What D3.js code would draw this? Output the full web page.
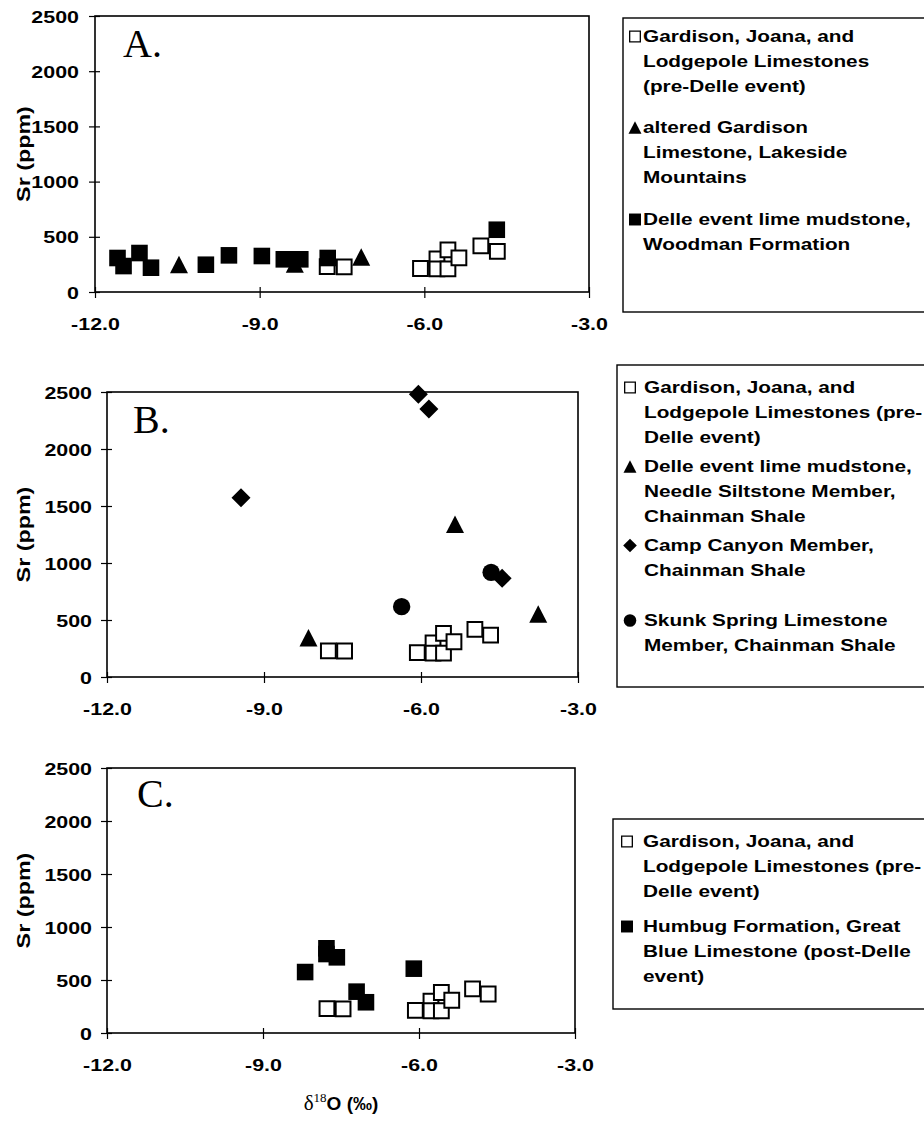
<!DOCTYPE html>
<html><head><meta charset="utf-8">
<script src="https://cdn.jsdelivr.net/npm/d3@7"></script>
<style>body{margin:0;background:#fff}svg{display:block}</style>
</head><body><svg id="c" width="924" height="1125"></svg>
<script>
// ---------- data ----------
const xTickValues = [-12, -9, -6, -3];
const yTickValues = [0, 500, 1000, 1500, 2000, 2500];

const gardisonX = [-7.77, -7.46, -6.07, -5.77, -5.77, -5.57, -5.57, -5.37, -4.97, -4.67];
const gardisonY = [230, 228, 213, 300, 210, 382, 210, 309, 417, 368];

const woodmanX = [-11.59, -11.48, -11.19, -10.98, -9.98, -9.56, -8.96, -8.56, -8.26, -7.76, -4.68];
const woodmanY = [308, 235, 353, 220, 247, 332, 326, 296, 296, 308, 564];

const alteredX = [-10.47, -8.36, -7.15];
const alteredY = [249, 254, 318];

const needleX = [-8.15, -5.35, -3.76];
const needleY = [345, 1339, 553];

const campX = [-9.44, -6.05, -5.85, -4.45];
const campY = [1573, 2480, 2351, 866];

const skunkX = [-6.37, -4.66];
const skunkY = [617, 918];

const humbugX = [-8.19, -7.78, -7.78, -7.58, -7.2, -7.02, -6.10];
const humbugY = [575, 799, 745, 714, 390, 290, 607];

const legendA = [
  {type: 'openSquare', lines: ['Gardison, Joana, and', 'Lodgepole Limestones', '(pre-Delle event)']},
  {type: 'triangle', lines: ['altered Gardison', 'Limestone, Lakeside', 'Mountains']},
  {type: 'square', lines: ['Delle event lime mudstone,', 'Woodman Formation']}
];
const legendB = [
  {type: 'openSquare', lines: ['Gardison, Joana, and', 'Lodgepole Limestones (pre-', 'Delle event)']},
  {type: 'triangle', lines: ['Delle event lime mudstone,', 'Needle Siltstone Member,', 'Chainman Shale']},
  {type: 'diamond', lines: ['Camp Canyon Member,', 'Chainman Shale']},
  {type: 'circle', lines: ['Skunk Spring Limestone', 'Member, Chainman Shale']}
];
const legendC = [
  {type: 'openSquare', lines: ['Gardison, Joana, and', 'Lodgepole Limestones (pre-', 'Delle event)']},
  {type: 'square', lines: ['Humbug Formation, Great', 'Blue Limestone (post-Delle', 'event)']}
];

// ---------- drawing ----------
const svg = d3.select('#c');
const SX = 1.26;
const SANS = '"Liberation Sans", Arial, Helvetica, sans-serif';
const SERIF = '"Liberation Serif", "Times New Roman", serif';

function stext(g, x, y, str, size, anchor, rot) {
  return g.append('text')
    .attr('transform', `translate(${x},${y})` + (rot ? ` rotate(${rot})` : '') + ` scale(${SX},1)`)
    .attr('text-anchor', anchor || 'start')
    .attr('font-family', SANS).attr('font-weight', 'bold').attr('font-size', size)
    .attr('fill', '#000')
    .text(str);
}

function shapePath(type, k) {
  if (type === 'openSquare') { const s = 14.8 * k; return `M${-s/2},${-s/2}h${s}v${s}h${-s}Z`; }
  if (type === 'square') { const s = 16.6 * k; return `M${-s/2},${-s/2}h${s}v${s}h${-s}Z`; }
  if (type === 'triangle') { const w = 18 * k, h = 17.5 * k; return `M0,${-h/2}L${w/2},${h/2}L${-w/2},${h/2}Z`; }
  if (type === 'diamond') { const s = 19 * k; return `M0,${-s/2}L${s/2},0L0,${s/2}L${-s/2},0Z`; }
  if (type === 'circle') { const r = 8.7 * k; return `M${r},0A${r},${r} 0 1,1 ${-r},0A${r},${r} 0 1,1 ${r},0Z`; }
}
function styleMarker(sel, type, k) {
  if (type === 'openSquare') sel.attr('fill', '#fff').attr('stroke', '#000').attr('stroke-width', 2 * k);
  else sel.attr('fill', '#000').attr('stroke', 'none');
}

const panels = [
  {letter: 'A.', x0: 95, x1: 589, y0: 16, y1: 292, yPad: 16, lx: 123, ly: 57,
   series: [[gardisonX, gardisonY, 'openSquare'], [alteredX, alteredY, 'triangle'], [woodmanX, woodmanY, 'square']],
   legend: {x: 623, y: 18, h: 294, mx: 635, tx: 643, base: [42, 133, 225], items: legendA}},
  {letter: 'B.', x0: 107, x1: 578, y0: 392, y1: 677, yPad: 15, lx: 133, ly: 433,
   series: [[gardisonX, gardisonY, 'openSquare'], [needleX, needleY, 'triangle'], [campX, campY, 'diamond'], [skunkX, skunkY, 'circle']],
   legend: {x: 617, y: 365, h: 322, mx: 630, tx: 644, base: [393, 472, 551, 626], items: legendB}},
  {letter: 'C.', x0: 107, x1: 575, y0: 768, y1: 1033, yPad: 15, lx: 137, ly: 807,
   series: [[gardisonX, gardisonY, 'openSquare'], [humbugX, humbugY, 'square']],
   legend: {x: 613, y: 819, h: 190, mx: 627, tx: 643, base: [847, 932], items: legendC}}
];

panels.forEach(p => {
  const x = d3.scaleLinear().domain([-12, -3]).range([p.x0, p.x1]);
  const y = d3.scaleLinear().domain([0, 2500]).range([p.y1, p.y0]);
  const g = svg.append('g');

  g.append('rect').attr('x', p.x0).attr('y', p.y0)
    .attr('width', p.x1 - p.x0).attr('height', p.y1 - p.y0)
    .attr('fill', 'none').attr('stroke', '#000').attr('stroke-width', 1.6);

  const ya = g.append('g').attr('transform', `translate(${p.x0},0)`)
    .call(d3.axisLeft(y).tickValues(yTickValues).tickSizeInner(6).tickSizeOuter(0).tickFormat(d3.format('d')));
  ya.select('.domain').remove();
  ya.selectAll('.tick line').attr('x1', 5).attr('stroke', '#000').attr('stroke-width', 1.2);
  ya.selectAll('.tick text').attr('x', -p.yPad / SX).attr('dy', '0.36em')
    .attr('transform', `scale(${SX},1)`).attr('font-family', SANS).attr('font-weight', 'bold')
    .attr('font-size', 17).attr('fill', '#000');

  const xa = g.append('g').attr('transform', `translate(0,${p.y1})`)
    .call(d3.axisBottom(x).tickValues(xTickValues).tickSizeInner(6).tickSizeOuter(0).tickFormat(d => d.toFixed(1)));
  xa.select('.domain').remove();
  xa.selectAll('.tick line').attr('y1', -5).attr('stroke', '#000').attr('stroke-width', 1.2);
  xa.selectAll('.tick text').attr('y', 38).attr('dy', 0)
    .attr('transform', `scale(${SX},1)`).attr('font-family', SANS).attr('font-weight', 'bold')
    .attr('font-size', 17).attr('fill', '#000');

  stext(g, 30, (p.y0 + p.y1) / 2, 'Sr (ppm)', 18.5, 'middle', -90);

  g.append('text').attr('x', p.lx).attr('y', p.ly)
    .attr('font-family', SERIF).attr('font-size', 40).attr('fill', '#000').text(p.letter);

  p.series.forEach(([xs, ys, type]) => {
    g.append('g').selectAll('path').data(d3.zip(xs, ys)).join('path')
      .attr('d', shapePath(type, 1))
      .attr('transform', d => `translate(${x(d[0])},${y(d[1])})`)
      .call(styleMarker, type, 1);
  });

  const L = p.legend;
  const lg = svg.append('g');
  lg.append('rect').attr('x', L.x).attr('y', L.y).attr('width', 940 - L.x).attr('height', L.h)
    .attr('fill', 'none').attr('stroke', '#000').attr('stroke-width', 1.4);
  L.items.forEach((it, i) => {
    lg.append('path').attr('d', shapePath(it.type, 0.72))
      .attr('transform', `translate(${L.mx},${L.base[i] - 5.5})`)
      .call(styleMarker, it.type, 0.65);
    it.lines.forEach((t, j) => stext(lg, L.tx, L.base[i] + j * 24.8, t, 16.5, 'start'));
  });
});

// x-axis title
const xt = svg.append('text').attr('transform', 'translate(341,1110)').attr('text-anchor', 'middle').attr('fill', '#000');
xt.append('tspan').attr('font-family', SERIF).attr('font-size', 21).text('δ');
xt.append('tspan').attr('font-family', SERIF).attr('font-size', 13).attr('dy', -8).text('18');
xt.append('tspan').attr('font-family', SANS).attr('font-weight', 'bold').attr('font-size', 19).attr('dy', 8).text('O (‰)');
</script></body></html>
